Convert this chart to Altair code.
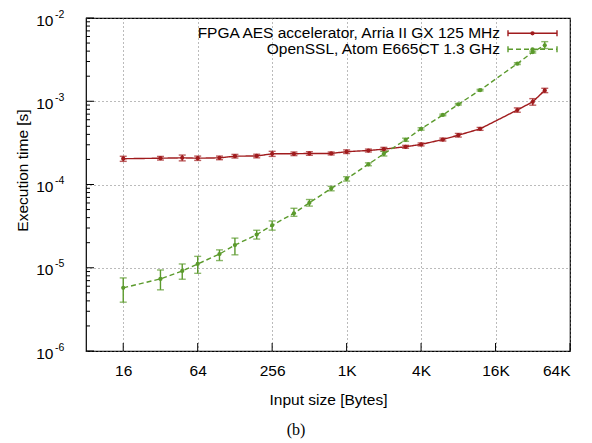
import altair as alt
import pandas as pd

sizes = [16, 32, 48, 64, 96, 128, 192, 256, 384, 512, 768, 1024, 1536, 2048,
         3072, 4096, 6144, 8192, 12288, 24576, 32768, 40960]

fpga_time = [2.04e-4, 2.07e-4, 2.09e-4, 2.07e-4, 2.09e-4, 2.19e-4, 2.20e-4, 2.34e-4,
             2.34e-4, 2.36e-4, 2.36e-4, 2.48e-4, 2.56e-4, 2.66e-4, 2.84e-4, 3.03e-4,
             3.47e-4, 3.91e-4, 4.66e-4, 7.85e-4, 9.86e-4, 1.35e-3]
fpga_err = [0.07, 0.05, 0.08, 0.06, 0.05, 0.05, 0.05, 0.07, 0.05, 0.05, 0.04,
            0.05, 0.04, 0.05, 0.04, 0.04, 0.04, 0.05, 0.04, 0.06, 0.09, 0.06]

ssl_time = [5.74e-6, 7.35e-6, 9.16e-6, 1.11e-5, 1.46e-5, 1.87e-5, 2.50e-5, 3.24e-5,
            4.51e-5, 6.03e-5, 8.95e-5, 1.17e-4, 1.75e-4, 2.34e-4, 3.44e-4, 4.66e-4,
            6.84e-4, 9.20e-4, 1.36e-3, 2.83e-3, 3.90e-3, 4.69e-3]
ssl_lo = [3.86e-6, 5.43e-6, 7.28e-6, 8.57e-6, 1.22e-5, 1.43e-5, 2.21e-5, 2.83e-5,
          4.15e-5, 5.50e-5, 8.40e-5, 1.10e-4, 1.68e-4, 2.20e-4, 3.30e-4, 4.50e-4,
          6.70e-4, 9.00e-4, 1.33e-3, 2.76e-3, 3.80e-3, 4.30e-3]
ssl_hi = [7.55e-6, 9.40e-6, 1.11e-5, 1.37e-5, 1.64e-5, 2.27e-5, 2.82e-5, 3.65e-5,
          5.18e-5, 6.60e-5, 9.50e-5, 1.24e-4, 1.82e-4, 2.50e-4, 3.60e-4, 4.80e-4,
          7.00e-4, 9.40e-4, 1.39e-3, 2.90e-3, 4.00e-3, 5.20e-3]

series_names = ["FPGA AES accelerator, Arria II GX 125 MHz",
                "OpenSSL, Atom E665CT 1.3 GHz"]
colors = ["#a01b1d", "#5b9a2c"]

x_ticks = [16, 64, 256, 1024, 4096, 16384, 65536]
y_major = [1e-6, 1e-5, 1e-4, 1e-3, 1e-2]
y_exp = ["-6", "-5", "-4", "-3", "-2"]
y_minor = [m * 10.0 ** e for e in range(-6, -2) for m in range(2, 10)]

x_title = "Input size [Bytes]"
y_title = "Execution time [s]"
caption = "(b)"

FONT = "Liberation Sans"
FS = 15.5
W, H = 484, 333

rows = []
for i, s in enumerate(sizes):
    rows.append({"series": series_names[0], "size": s, "time": fpga_time[i],
                 "lo": fpga_time[i] * (1 - fpga_err[i]), "hi": fpga_time[i] * (1 + fpga_err[i])})
for i, s in enumerate(sizes):
    rows.append({"series": series_names[1], "size": s, "time": ssl_time[i],
                 "lo": ssl_lo[i], "hi": ssl_hi[i]})
df = pd.DataFrame(rows)

xscale = alt.Scale(type="log", base=2, domain=[8, 65536], nice=False)
yscale = alt.Scale(type="log", domain=[1e-6, 1e-2], nice=False)
cscale = alt.Scale(domain=series_names, range=colors)
dscale = alt.Scale(domain=series_names, range=[[1, 0], [5, 3]])

xaxis = alt.Axis(values=x_ticks, ticks=False, domain=False, grid=True,
                 gridDash=[1, 3], gridColor="#777", gridWidth=1,
                 labelExpr="datum.value >= 1024 ? (datum.value / 1024) + 'K' : '' + datum.value",
                 labelFont=FONT, labelFontSize=FS, labelColor="black", labelPadding=12,
                 title=x_title, titleFont=FONT, titleFontSize=FS, titleFontWeight="normal",
                 titleColor="black", titlePadding=14)
yaxis = alt.Axis(values=y_major, ticks=False, domain=False, grid=True,
                 gridDash=[1, 3], gridColor="#777", gridWidth=1,
                 labelExpr="'10'", labelFont=FONT, labelFontSize=FS, labelColor="black",
                 labelPadding=33, labelOffset=2,
                 title=y_title, titleFont=FONT, titleFontSize=FS, titleFontWeight="normal",
                 titleColor="black", titleX=-64, titleY=152, titleBaseline="middle")


def XE(field):
    return alt.X(field, scale=xscale, axis=xaxis, title=x_title)


def YE(field):
    return alt.Y(field, scale=yscale, axis=yaxis, title=y_title)


base = alt.Chart(df)
C = alt.Color("series:N", scale=cscale, legend=None)
D = alt.StrokeDash("series:N", scale=dscale, legend=None)

lines = base.mark_line(strokeWidth=1.4).encode(x=XE("size:Q"), y=YE("time:Q"), color=C, strokeDash=D)
bars = base.mark_rule(strokeWidth=1.4).encode(
    x=XE("size:Q"), y=YE("lo:Q"), y2="hi:Q", color=C)
cap_lo = base.mark_tick(orient="horizontal", size=7, thickness=1.4).encode(
    x=XE("size:Q"), y=YE("lo:Q"), color=C)
cap_hi = base.mark_tick(orient="horizontal", size=7, thickness=1.4).encode(
    x=XE("size:Q"), y=YE("hi:Q"), color=C)
pts = base.mark_point(filled=True, size=18, opacity=1, shape="circle").encode(
    x=XE("size:Q"), y=YE("time:Q"), color=C)

# inward ticks
ymaj_df = pd.DataFrame({"v": y_major, "exp": y_exp})
ymin_df = pd.DataFrame({"v": y_minor})
xt_df = pd.DataFrame({"v": x_ticks})
ytick_major = alt.Chart(ymaj_df).mark_rule(color="black", strokeWidth=1).encode(
    y=YE("v:Q"), x=alt.value(0), x2=alt.value(8))
ytick_minor = alt.Chart(ymin_df).mark_rule(color="black", strokeWidth=1).encode(
    y=YE("v:Q"), x=alt.value(0), x2=alt.value(4))
xtick_major = alt.Chart(xt_df).mark_rule(color="black", strokeWidth=1).encode(
    x=XE("v:Q"), y=alt.value(H), y2=alt.value(H - 8))
exps = alt.Chart(ymaj_df).mark_text(align="left", baseline="middle", font=FONT,
                                    fontSize=10.5, dy=-3.5, color="black").encode(
    y=YE("v:Q"), x=alt.value(-31), text="exp:N")

# legend (manual, text right-aligned with sample at right)
leg_df = pd.DataFrame({"series": series_names, "row": [0, 1]})
leg = alt.Chart(leg_df).transform_calculate(
    py="15.3 + 16 * datum.row", plo="15.3 + 16 * datum.row - 3", phi="15.3 + 16 * datum.row + 3")
PY = alt.Y("py:Q", scale=None, axis=None)
leg_text = leg.mark_text(align="right", baseline="middle", font=FONT, fontSize=FS,
                         color="black").encode(x=alt.value(414), y=PY, text="series:N")
leg_line = leg.mark_rule(strokeWidth=1.4).encode(
    x=alt.value(422), x2=alt.value(471), y=PY, color=C, strokeDash=D)
leg_cap1 = leg.mark_rule(strokeWidth=1.4).encode(
    x=alt.value(422), y=alt.Y("plo:Q", scale=None, axis=None), y2="phi:Q", color=C)
leg_cap2 = leg.mark_rule(strokeWidth=1.4).encode(
    x=alt.value(471), y=alt.Y("plo:Q", scale=None, axis=None), y2="phi:Q", color=C)
leg_pt = leg.mark_point(filled=True, size=18, opacity=1, shape="circle").encode(
    x=alt.value(446.5), y=PY, color=C)

cap_df = pd.DataFrame({"t": [caption]})
cap_text = alt.Chart(cap_df).mark_text(font="Liberation Serif", fontSize=16,
                                       baseline="middle", align="center",
                                       color="black").encode(
    x=alt.value(210), y=alt.value(412), text="t:N")

chart = alt.layer(
    lines, bars, cap_lo, cap_hi, pts,
    ytick_major, ytick_minor, xtick_major, exps,
    leg_text, leg_line, leg_cap1, leg_cap2, leg_pt, cap_text
).properties(
    width=W, height=H,
    autosize=alt.AutoSizeParams(type="none"),
    padding={"left": 78, "top": 10, "right": 10, "bottom": 90},
    background="white",
).configure_view(stroke="black", strokeWidth=1.2)

chart.save("out.html", embed_options={"renderer": "svg", "actions": False})
